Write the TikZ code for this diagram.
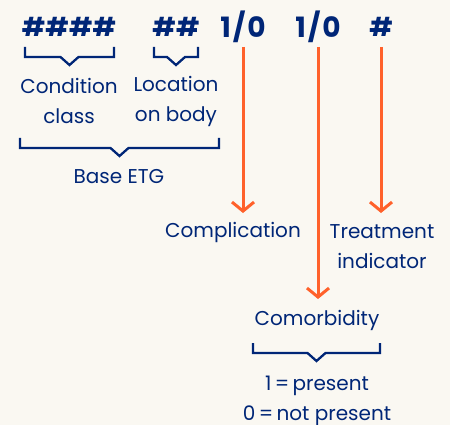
\documentclass[tikz,border=0pt]{standalone}
\usepackage{fontspec}
\setmainfont{Poppins}
\usetikzlibrary{arrows.meta}
\definecolor{navy}{HTML}{002677}
\definecolor{flame}{HTML}{FF612B}
\definecolor{paper}{HTML}{FAF8F2}
\tikzstyle{digits} = [text=navy, font=\fontsize{26}{30}\selectfont\bfseries, inner sep=0pt]
\tikzstyle{flag} = [digits, font=\fontsize{28}{30}\selectfont\bfseries]
\tikzstyle{desc} = [text=navy, font=\fontsize{20}{30}\selectfont, align=center, inner sep=0pt]
\tikzstyle{brace} = [draw=navy, line width=2.3pt, line join=miter]
\tikzstyle{arrow} = [draw=flame, line width=3pt, -{Straight Barb[length=9pt,width=22pt]}]
\newcommand{\onezero}{1\kern2pt/\kern2pt0}
% underbrace with a notch: left x, right x, top y
\newcommand{\drawbrace}[3]{%
  \draw[brace] (#1,#3) -- (#1,#3+10) -- ({(#1+#2)/2-9},#3+10) -- ({(#1+#2)/2},#3+18)
    -- ({(#1+#2)/2+9},#3+10) -- (#2,#3+10) -- (#2,#3);}

\begin{document}
\begin{tikzpicture}[x=1pt, y=-1pt]
        \fill[paper] (0,0) rectangle (450,425);
        \useasboundingbox (0,0) rectangle (450,425);

        \node (cond_code) [digits] at (69,27) {\#\#\#\#};
        \node (loc_code) [digits] at (176,27) {\#\#};
        \node (compl_code) [flag] at (243,27) {\onezero};
        \node (comorb_code) [flag] at (318,27) {\onezero};
        \node (treat_code) [digits] at (381,27) {\#};

        \node (cond) [desc] at (69,101) {Condition\\class};
        \node (loc) [desc] at (176,101) {Location\\on body};
        \node (base) [desc] at (119,177) {Base ETG};
        \node (compl) [desc] at (233,232) {Complication};
        \node (treat) [desc] at (382,247) {Treatment\\indicator};
        \node (comorb) [desc] at (317,320) {Comorbidity};
        \node (values) [desc] at (317,401) {1\,=\,present\\0\,=\,not present};

        \drawbrace{25}{114}{47}
        \drawbrace{154}{198}{47}
        \drawbrace{20}{219}{138}
        \drawbrace{253}{380}{343}

        \draw [arrow] (compl_code.center) ++(0,20) -- ++(0,166);
        \draw [arrow] (comorb_code.center) ++(0,20) -- ++(0,252);
        \draw [arrow] (treat_code.center) ++(0,20) -- ++(0,166);
    \end{tikzpicture}
\end{document}
